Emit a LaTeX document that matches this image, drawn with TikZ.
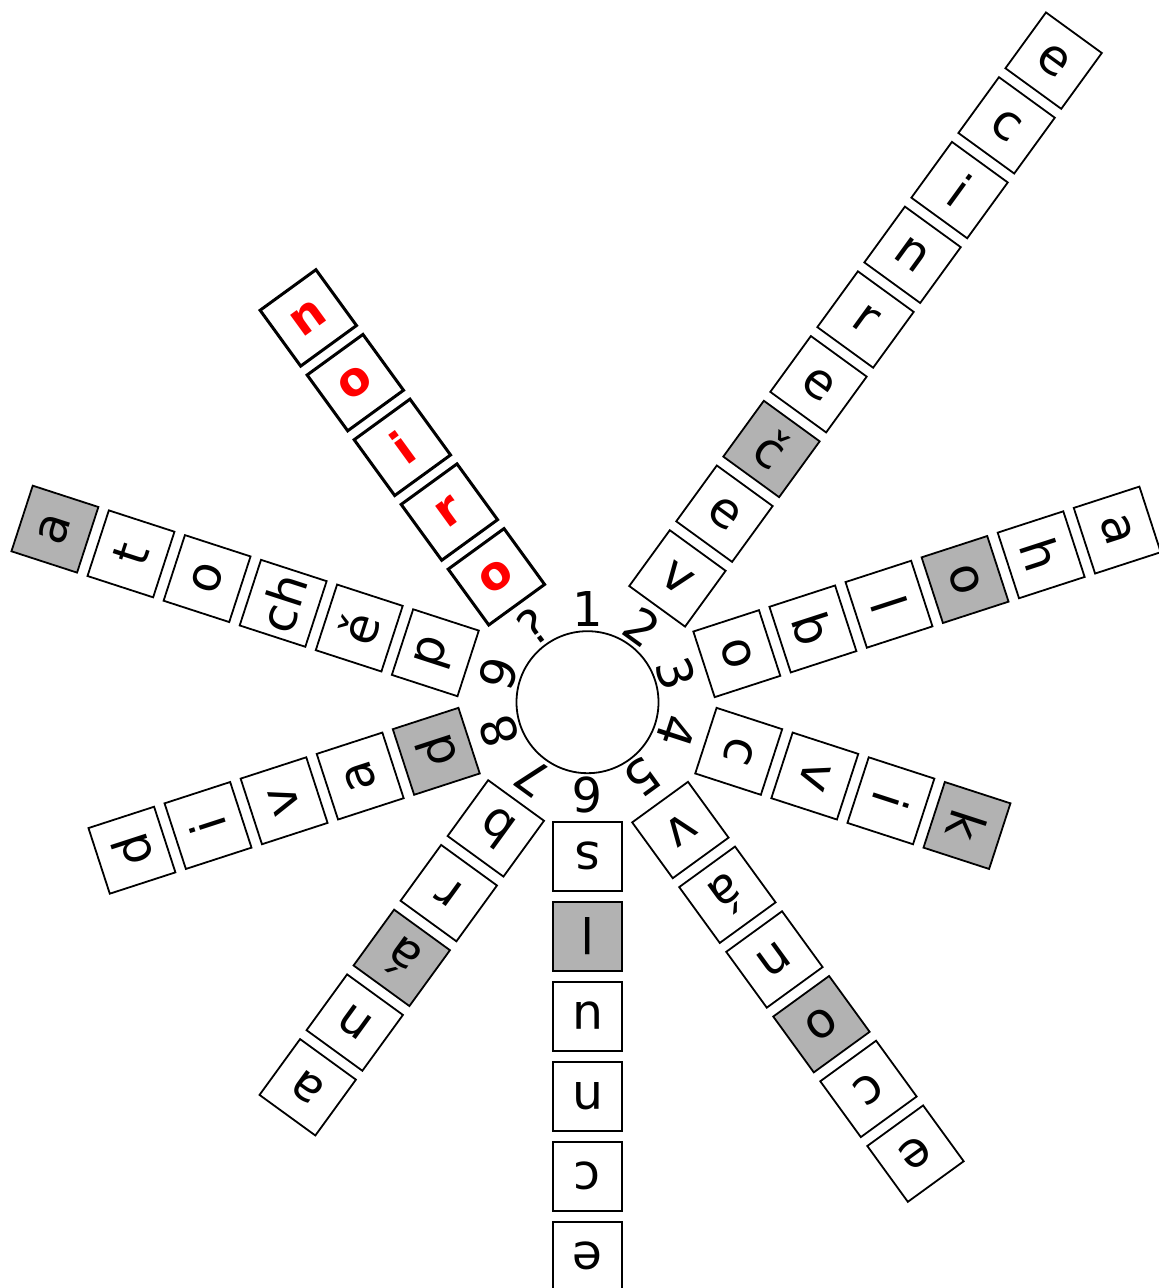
\documentclass[tikz,border=0pt]{standalone}
\usepackage{fontspec}
\setmainfont{DejaVu Sans}
\begin{document}
\begin{tikzpicture}[x=1pt,y=1pt,
  letterbox/.style={draw=black, line width=1.8pt, minimum size=69pt, inner sep=0pt,
    font=\fontsize{49}{49}\selectfont},
  answerbox/.style={draw=black, line width=3pt, fill=white, minimum size=69pt, inner sep=0pt,
    text=red, font=\fontsize{47}{47}\selectfont\bfseries},
  numlabel/.style={inner sep=0pt, font=\fontsize{48}{48}\selectfont},
  hubstyle/.style={draw=black, circle, line width=1.8pt, minimum size=142pt, inner sep=0pt}]
\useasboundingbox (0,0) rectangle (1159,1288);
\coordinate (C) at (587.5,585.8);
\node[hubstyle] (hub) at (C) {};
% answer spoke
\foreach \L [count=\k] in {o,r,i,o,n} {
  \pgfmathsetmacro\dist{155+80*(\k-1)}
  \node[answerbox, rotate=36] (sq-\k) at ([shift={(126:\dist)}]C) {\L};
}
% word spokes
\foreach \a/\r/\n/\g/\w in {
  54/153/two/3/{v,e,č,e,r,n,i,c,e},
  18/157/three/4/{o,b,l,o,h,a},
  -18/159/four/4/{c,v,i,k},
  -54/158/five/4/{v,á,n,o,c,e},
  -90/154/six/2/{s,l,u,n,c,e},
  -126/156/seven/3/{b,r,á,n,a},
  -162/159/eight/1/{d,a,v,i,d},
  162/160/nine/6/{p,ě,ch,o,t,a}} {
  \foreach \L [count=\k] in \w {
    \pgfmathsetmacro\dist{\r+80*(\k-1)}
    \ifnum\k=\g\def\fc{gray!60}\else\def\fc{white}\fi
    \node[letterbox, fill=\fc, rotate=\a-90] (s\n-\k) at ([shift={(\a:\dist)}]C) {\L};
  }
}
% labels
\foreach \a/\t [count=\i] in {90/1,54/2,18/3,-18/4,-54/5,-90/6,-126/7,-162/8,162/9,126/?} {
  \node[numlabel, rotate=\a-90] (lab\i) at ([shift={(\a:93)}]C) {\t};
}
\end{tikzpicture}
\end{document}
